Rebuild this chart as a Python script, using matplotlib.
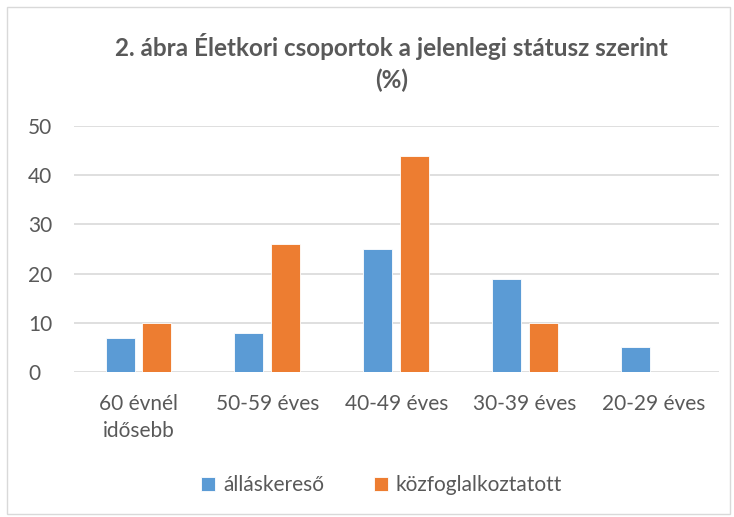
import numpy as np
import matplotlib
matplotlib.use('Agg')
import matplotlib.pyplot as plt
from matplotlib.patches import Rectangle

categories = ['60 évnél\nidősebb', '50-59 éves', '40-49 éves', '30-39 éves', '20-29 éves']
allaskereso = [7, 8, 25, 19, 5]
kozfoglalkoztatott = [10, 26, 44, 10, 0]
series_names = ['álláskereső', 'közfoglalkoztatott']

plt.rcParams['font.family'] = ['Lato', 'DejaVu Sans']
txt = '#595959'

fig = plt.figure(figsize=(7.34, 5.17), dpi=100)
fig.patches.append(Rectangle((0.01, 0.005), 0.985, 0.982, transform=fig.transFigure,
                             fill=False, edgecolor='#D9D9D9', linewidth=1))
ax = fig.add_axes([74 / 734, 1 - 372 / 517, (718.5 - 74) / 734, (372 - 126) / 517])

x = np.arange(len(categories))
w = 0.225
off = 0.143
ax.bar(x - off, allaskereso, w, color='#5B9BD5', edgecolor='white', linewidth=0.6,
       label=series_names[0], zorder=3)
ax.bar(x + off, kozfoglalkoztatott, w, color='#ED7D31', edgecolor='white', linewidth=0.6,
       label=series_names[1], zorder=3)

ax.set_xlim(-0.5, len(categories) - 0.5)
ax.set_ylim(0, 50)
ax.set_yticks(np.arange(0, 51, 10))
ax.yaxis.grid(True, color='#D9D9D9', linewidth=1.2, zorder=0)
for s in ax.spines.values():
    s.set_visible(False)
ax.tick_params(length=0, labelsize=15, colors=txt)
ax.tick_params(axis='y', pad=33)
ax.tick_params(axis='x', pad=16)
for lbl in ax.get_yticklabels():
    lbl.set_horizontalalignment('left')
ax.set_xticks(x)
ax.set_xticklabels(categories, linespacing=1.45)

fig.text(0.533, 1 - 47 / 517, '2. ábra Életkori csoportok a jelenlegi státusz szerint',
         ha='center', va='center', fontsize=17.5, fontweight='bold', color=txt)
fig.text(0.533, 1 - 80 / 517, '(%)', ha='center', va='center', fontsize=17.5,
         fontweight='bold', color=txt)

fig.legend(loc='center', bbox_to_anchor=(0.52, 1 - 485 / 517), ncol=2, frameon=False,
           fontsize=15, handlelength=0.65, handleheight=0.65, handletextpad=0.4,
           columnspacing=2.4, labelcolor=txt)

fig.savefig('out.png', dpi=100)
